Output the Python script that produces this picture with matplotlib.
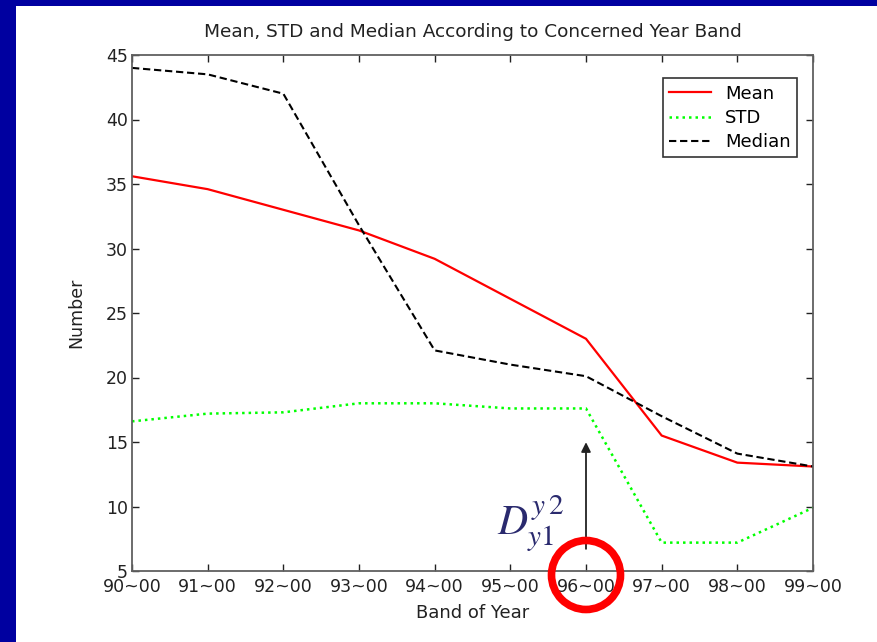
import matplotlib
matplotlib.use("Agg")
import matplotlib.pyplot as plt
from matplotlib.patches import Rectangle, Ellipse

bands = ["90~00", "91~00", "92~00", "93~00", "94~00", "95~00", "96~00", "97~00", "98~00", "99~00"]
mean_vals = [35.6, 34.6, 33.0, 31.4, 29.2, 26.1, 23.0, 15.5, 13.4, 13.1]
std_vals = [16.6, 17.2, 17.3, 18.0, 18.0, 17.6, 17.6, 7.2, 7.2, 9.9]
median_vals = [44.0, 43.5, 42.0, 31.8, 22.1, 21.0, 20.1, 17.0, 14.1, 13.1]
yticks = [5, 10, 15, 20, 25, 30, 35, 40, 45]

W, H = 878, 642
fig = plt.figure(figsize=(W / 100, H / 100), dpi=100, facecolor="white")
# blue border strips (top and left)
fig.patches.append(Rectangle((0, 1 - 6 / H), 1, 6 / H, transform=fig.transFigure,
                             facecolor="#0000a0", edgecolor="none", zorder=-5))
fig.patches.append(Rectangle((0, 0), 16 / W, 1, transform=fig.transFigure,
                             facecolor="#0000a0", edgecolor="none", zorder=-5))

ax = fig.add_axes([132 / W, 1 - 571 / H, (813 - 132) / W, (571 - 55) / H])
x = list(range(len(bands)))
ax.plot(x, mean_vals, color="#ff0000", lw=1.6, label="Mean")
ax.plot(x, std_vals, color="#00ff00", lw=1.8, ls=(0, (1, 1.6)), label="STD")
ax.plot(x, median_vals, color="black", lw=1.5, ls=(0, (3.5, 1.8)), label="Median")

ax.set_xlim(0, len(bands) - 1)
ax.set_ylim(5, 45)
ax.set_xticks(x)
ax.set_xticklabels(bands)
ax.set_yticks(yticks)
ax.tick_params(direction="in", length=5, width=1, top=True, right=True,
               labelsize=12.5, colors="#222222", pad=3)
ax.tick_params(axis="x", pad=5)
for s in ax.spines.values():
    s.set_color("#606060")
    s.set_linewidth(1.3)

ax.set_title("Mean, STD and Median According to Concerned Year Band", fontsize=13.3,
             color="#222222", pad=13)
ax.set_xlabel("Band of Year", fontsize=13, color="#222222", labelpad=6)
ax.set_ylabel("Number", fontsize=12.5, color="#222222", labelpad=15)

leg = ax.legend(loc="upper right", bbox_to_anchor=(0.9765, 0.955), fontsize=13,
                fancybox=False, framealpha=1, edgecolor="#333333",
                handlelength=2.3, borderpad=0.35, labelspacing=0.35, handletextpad=0.8,
                borderaxespad=0)
leg.get_frame().set_linewidth(1.2)

# arrow annotation at 96~00
ax.annotate("", xy=(6, 15.2), xytext=(6, 6.5),
            arrowprops=dict(arrowstyle="-|>", color="#222222", lw=1.3, mutation_scale=14))
fig.text(497 / W, 1 - 535 / H, r"$D_{y1}^{y\,2}$", fontsize=30, color="#2a2a6e",
         math_fontfamily="stix", ha="left", va="baseline")

# red circle around the 96~00 label
circ = Ellipse((586 / W, 1 - 575 / H), 69 / W, 69 / H, transform=fig.transFigure,
               facecolor="none", edgecolor="#ff0000", lw=5.5, zorder=10)
fig.patches.append(circ)

fig.savefig("out.png", dpi=100, facecolor=fig.get_facecolor())
